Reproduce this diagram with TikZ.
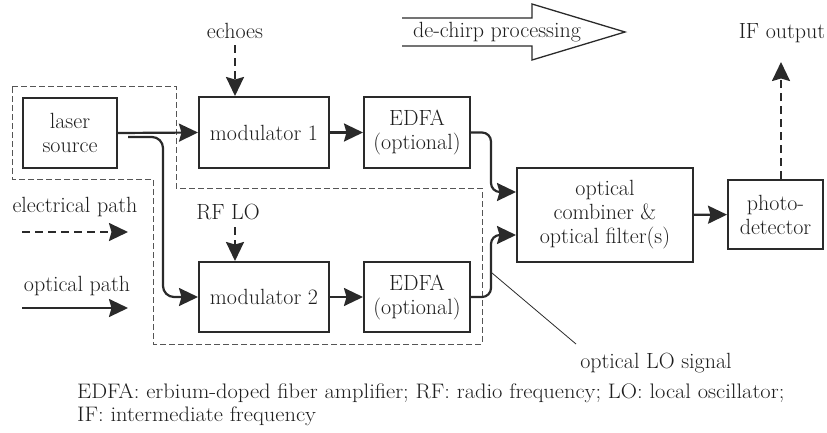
\documentclass[tikz,border=0pt]{standalone}
\usepackage{fontspec}
\usetikzlibrary{arrows.meta}
\definecolor{ink}{HTML}{2A2A2A}
\definecolor{txt}{HTML}{1E1E1E}
\definecolor{bnd}{HTML}{555555}
\begin{document}
\begin{tikzpicture}[x=1pt,y=-1pt,
  every node/.style={font=\fontsize{22}{24}\selectfont, text=txt},
  blk/.style={draw=ink, line width=2pt, inner sep=0pt, align=center},
  lbl/.style={inner sep=0pt, align=center},
  fnote/.style={inner sep=0pt, anchor=base west, font=\fontsize{21}{22}\selectfont},
  opt/.style={draw=ink, line width=2.2pt, -{Stealth[length=19pt,width=18pt,inset=2.5pt]}},
  elec/.style={opt, dash pattern=on 8pt off 5pt},
  bound/.style={draw=bnd, line width=1pt, dash pattern=on 6pt off 3pt},
]
\useasboundingbox (0,0) rectangle (827,432);

% dashed boundary
\draw[bound] (12,86) -- (176,86) -- (176,188) -- (482,188) -- (482,344)
  -- (153,344) -- (153,179) -- (12,179) -- cycle;

% blocks
\node[blk, minimum width=94pt, minimum height=70pt] (laser) at (70,133) {laser\\source};
\node[blk, minimum width=130pt, minimum height=71pt] (mod1) at (264,132.5) {modulator 1};
\node[blk, minimum width=106pt, minimum height=71pt] (edfa1) at (417,132.5) {EDFA\\(optional)};
\node[blk, minimum width=130pt, minimum height=70pt] (mod2) at (264,297) {modulator 2};
\node[blk, minimum width=106pt, minimum height=70pt] (edfa2) at (417,297) {EDFA\\(optional)};
\node[blk, minimum width=176pt, minimum height=94pt] (comb) at (605,215) {optical\\combiner \&\\optical filter(s)};
\node[blk, minimum width=95pt, minimum height=69pt] (pd) at (775.5,214.5) {photo-\\detector};

% labels
\node[lbl] (echoes) at (235,31) {echoes};
\node[lbl] (rflo) at (228,212) {RF LO};
\node[lbl] (ifout) at (782,33) {IF output};
\node[lbl] (elab) at (75,207) {electrical path};
\node[lbl] (olab) at (77,286) {optical path};
\node[lbl] (lolab) at (656,363) {optical LO signal};
\node[fnote] (fn1) at (77,398.5) {\scalebox{1.07}[1]{EDFA: erbium-doped fiber amplifier; RF: radio frequency; LO: local oscillator;}};
\node[fnote] (fn2) at (77,421) {\scalebox{1.07}[1]{IF: intermediate frequency}};

% de-chirp processing arrow
\draw[draw=ink, line width=1.3pt, line join=miter] (402,18) -- (532,18) -- (532,4) -- (625,32)
  -- (532,60) -- (532,46) -- (402,46);
\node[lbl] (dechirp) at (497,32) {de-chirp processing};

% coordinates
\coordinate (s2) at (128,137);
\coordinate (bend) at (163,137);
\coordinate (ech) at (235,45);
\coordinate (rfa) at (235,227);
\coordinate (ift) at (781,62);
\coordinate (e1) at (22,232);
\coordinate (e2) at (128,232);
\coordinate (o1) at (22,308);
\coordinate (o2) at (128,308);
\coordinate (lo1) at (492,273);
\coordinate (lo2) at (576,344);

% connectors
\draw[opt] (laser.east) -- (mod1.west);
\draw[opt, rounded corners=11pt] (s2) -- (bend) |- (mod2.west);
\draw[opt] (mod1) -- (edfa1);
\draw[opt] (mod2) -- (edfa2);
\draw[opt, rounded corners=9pt] (edfa1.east) -- ++(20,0) |- ([yshift=23pt]comb.west);
\draw[opt, rounded corners=9pt] (edfa2.east) -- ++(20,0) |- ([yshift=-20pt]comb.west);
\draw[opt] (comb) -- (pd);
\draw[elec] (ift |- pd.north) -- (ift);
\draw[elec] (ech) -- (ech |- mod1.north);
\draw[elec] (rfa) -- (rfa |- mod2.north);
\draw[elec] (e1) -- (e2);
\draw[opt] (o1) -- (o2);
\draw[draw=ink, line width=0.8pt] (lo1) -- (lo2);
\end{tikzpicture}
\end{document}
